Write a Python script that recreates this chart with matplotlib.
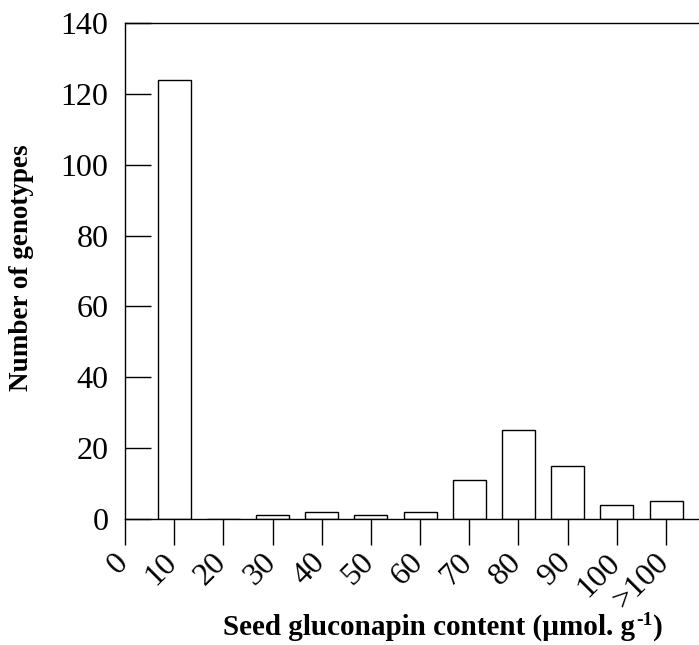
import numpy as np
import matplotlib
matplotlib.use('Agg')
import matplotlib.pyplot as plt
import matplotlib.transforms as mtransforms

plt.rcParams['font.family'] = ['Liberation Serif', 'DejaVu Serif']

# data
bins = [10, 20, 30, 40, 50, 60, 70, 80, 90, 100, 110]
counts = [124, 0, 1, 2, 1, 2, 11, 25, 15, 4, 5]
tick_pos = [0, 10, 20, 30, 40, 50, 60, 70, 80, 90, 100, 110]
tick_labels = ['0', '10', '20', '30', '40', '50', '60', '70', '80', '90', '100', '>100']
y_ticks = [0, 20, 40, 60, 80, 100, 120, 140]

fig = plt.figure(figsize=(6.99, 6.45), dpi=100)
ax = fig.add_axes([0.1788, 0.1953, 0.8212, 0.769])

ax.bar(bins, counts, width=6.7, color='white', edgecolor='black', linewidth=1.0)

ax.set_xlim(0, 116.7)
ax.set_ylim(0, 140)
ax.set_xticks(tick_pos)
ax.set_xticklabels(tick_labels, rotation=45, ha='right', va='top')
ax.set_yticks(y_ticks)

ax.tick_params(axis='x', direction='out', length=19, width=1.0, labelsize=23, pad=2)
ax.tick_params(axis='y', direction='in', length=19, width=1.0, labelsize=23, pad=12)

# nudge the rotated labels to the right, as in the original
shift = mtransforms.ScaledTranslation(9 / 100, 0, fig.dpi_scale_trans)
for lbl in ax.get_xticklabels():
    lbl.set_transform(lbl.get_transform() + shift)

ax.spines['right'].set_visible(False)
for s in ['left', 'bottom', 'top']:
    ax.spines[s].set_linewidth(1.0)

fig.text(0.031, 0.585, 'Number of genotypes', fontsize=19.5, fontweight='bold',
         rotation=90, ha='center', va='center')

# x label with a plain hyphen in the superscript: three pieces side by side
base = 10 / 645
renderer = fig.canvas.get_renderer()
t1 = fig.text(223 / 699, base, 'Seed gluconapin content (µmol. g',
              fontsize=21, fontweight='bold', ha='left', va='baseline')
ext = t1.get_window_extent(renderer)
t2 = fig.text((ext.x1 + 1) / 699, base + 10 / 645, '-1',
              fontsize=14, fontweight='bold', ha='left', va='baseline')
ext2 = t2.get_window_extent(renderer)
fig.text((ext2.x1 + 1) / 699, base, ')',
         fontsize=21, fontweight='bold', ha='left', va='baseline')

fig.savefig('out.png', dpi=100)
